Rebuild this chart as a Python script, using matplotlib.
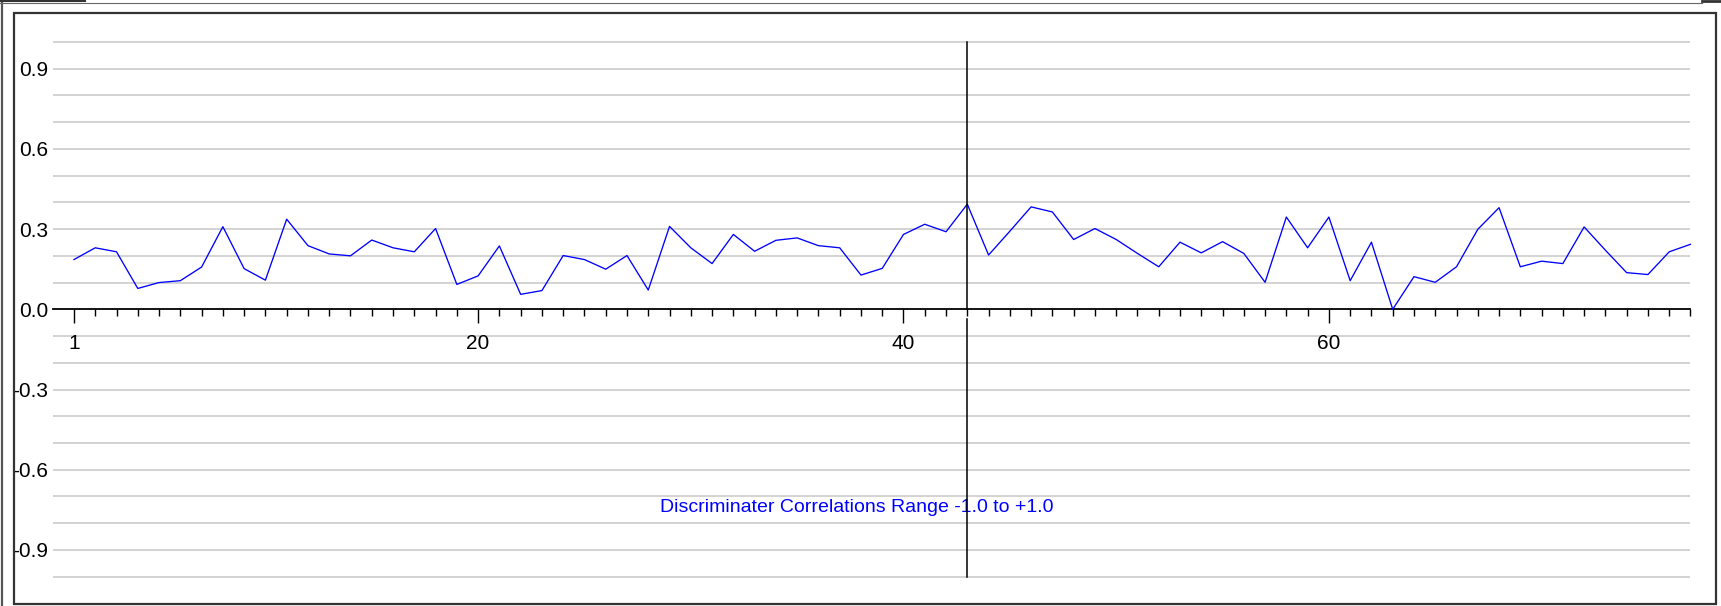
import matplotlib
matplotlib.use("Agg")
import matplotlib.pyplot as plt
import numpy as np
from matplotlib.lines import Line2D
from matplotlib.patches import Rectangle


# discriminator correlation for items 1..77
items = list(range(1, 78))
correlations = [
    0.186, 0.230, 0.215, 0.078, 0.100, 0.107, 0.158, 0.309, 0.152, 0.109,
    0.337, 0.238, 0.207, 0.200, 0.259, 0.230, 0.215, 0.302, 0.093, 0.125,
    0.237, 0.056, 0.070, 0.201, 0.186, 0.150, 0.201, 0.072, 0.310, 0.230,
    0.171, 0.280, 0.217, 0.258, 0.267, 0.238, 0.230, 0.128, 0.153, 0.280,
    0.318, 0.290, 0.393, 0.203, 0.292, 0.383, 0.364, 0.261, 0.302, 0.261,
    0.209, 0.159, 0.251, 0.211, 0.253, 0.209, 0.101, 0.345, 0.230, 0.345,
    0.107, 0.251, 0.000, 0.122, 0.101, 0.159, 0.299, 0.380, 0.159, 0.180,
    0.171, 0.308, 0.221, 0.137, 0.130, 0.215, 0.243,
]
selected_item = 43
major_ticks = [1, 20, 40, 60]
y_ticks = [0.9, 0.6, 0.3, 0.0, -0.3, -0.6, -0.9]
title = "Discriminater Correlations Range -1.0 to +1.0"

plt.rcParams["font.family"] = ["Liberation Sans", "DejaVu Sans"]
plt.rcParams["axes.unicode_minus"] = False

W, H = 1721, 606
fig = plt.figure(figsize=(W / 100, H / 100), dpi=100)

# inner frame of the chart panel, in pixels
left, top, right, bottom = 14, 13, 1716, 604
ax = fig.add_axes([left / W, 1 - bottom / H, (right - left) / W, (bottom - top) / H])

ax.set_xlim(-1.82, 78.2)
ax.set_ylim(-1.102, 1.108)

# horizontal grid every 0.1 (zero line is the axis)
levels = np.round(np.linspace(-1, 1, 21), 2)
levels = levels[levels != 0]
ax.hlines(levels, 0, 77, color="#c8c8c8", linewidth=1.1, zorder=1)

ax.plot(items, correlations, color="#0000ff", linewidth=0.95, zorder=3)

# selected item marker line, broken just under the axis
ax.axvline(selected_item, ymin=(0 + 1.102) / 2.21, ymax=(1.0 + 1.102) / 2.21,
           color="black", linewidth=1.1, zorder=4)
ax.axvline(selected_item, ymin=(-1.0 + 1.102) / 2.21, ymax=(-0.035 + 1.102) / 2.21,
           color="black", linewidth=1.1, zorder=4)

# x axis drawn at zero
for side in ("top", "right", "left"):
    ax.spines[side].set_visible(False)
ax.spines["left"].set_position(("data", 0))
ax.spines["bottom"].set_position(("data", 0))
ax.spines["bottom"].set_bounds(0, 77)
ax.spines["bottom"].set_linewidth(1.3)
ax.spines["bottom"].set_zorder(2)

ax.set_xticks(major_ticks)
ax.set_xticks(items, minor=True)
ax.tick_params(axis="x", which="major", direction="out", length=10, width=1.0,
               labelsize=15, pad=8)
ax.tick_params(axis="x", which="minor", direction="out", length=5, width=1.0)

ax.set_yticks(y_ticks)
ax.set_yticklabels([f"{v:.1f}" for v in y_ticks])
ax.tick_params(axis="y", length=0, labelsize=15, pad=3)

ax.text(37.8, -0.74, title, color="#0000ff", fontsize=14, ha="center", va="center")

# panel frame
ax.add_patch(Rectangle((0, 0), 1, 1, transform=ax.transAxes, fill=False,
                       edgecolor="#333333", linewidth=1.6, clip_on=False, zorder=5))

# outer window edges
fig.add_artist(Line2D([1.5 / W, 1.5 / W], [0, 1 - 2 / H], color="#555555", linewidth=1.6))
fig.add_artist(Line2D([0, 1702 / W], [1 - 2.5 / H, 1 - 2.5 / H], color="#666666", linewidth=0.8))
fig.add_artist(Line2D([0, 85 / W], [1 - 0.5 / H, 1 - 0.5 / H], color="#333333", linewidth=1.5))
fig.add_artist(Line2D([1702 / W, 1], [1 - 1 / H, 1 - 1 / H], color="#333333", linewidth=2))

fig.savefig("out.png", dpi=100)
plt.close(fig)
